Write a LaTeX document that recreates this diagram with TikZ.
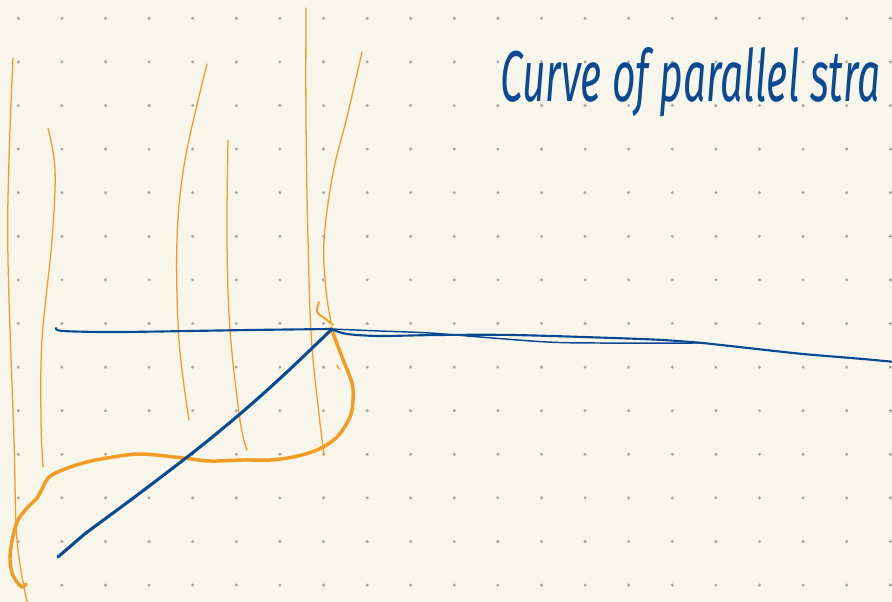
\documentclass[tikz,border=0pt]{standalone}
\usepackage{fontspec}
\newfontfamily\handfont{Fira Sans}
\definecolor{paper}{HTML}{F8F5EA}
\definecolor{dotgray}{HTML}{ABA79C}
\definecolor{inkblue}{HTML}{0B4A93}
\definecolor{inkorange}{HTML}{F39C21}
\tikzset{
  thinorange/.style={draw=inkorange, line width=0.95pt, line cap=round, line join=round},
  thickorange/.style={draw=inkorange, line width=2.6pt, line cap=round, line join=round},
  blueline/.style={draw=inkblue, line width=1.6pt, line cap=round, line join=round},
  bluethick/.style={draw=inkblue, line width=2.3pt, line cap=round, line join=round},
  gridDot/.style={fill=dotgray},
  titletext/.style={text=inkblue, inner sep=0pt, font=\handfont\itshape\fontsize{54}{58}\selectfont, xscale=0.565}
}
\begin{document}
\begin{tikzpicture}[x=0.75pt,y=-0.75pt]
\fill[paper] (0,0) rectangle (892,602);
\useasboundingbox (0,0) rectangle (892,602);
\begin{scope}
\clip (0,0) rectangle (892,602);
% dot grid
\foreach \i in {0,...,20}{
  \foreach \j in {0,...,13}{
    \fill[gridDot] ({18.3+43.6*\i},{18.3+43.6*\j}) circle[radius=1.25pt];
  }
}
% title
\node[titletext, anchor=base west] (title) at (500,102) {Curve of parallel stra};
% thin orange strands
\draw[thinorange] plot[smooth, tension=0.6] coordinates {(13,58) (9,160) (8,260) (14,440) (17,540) (27,602)};
\draw[thinorange] plot[smooth, tension=0.6] coordinates {(48,128) (55,170) (52,240) (42,340) (41,420) (43,467)};
\draw[thinorange] plot[smooth, tension=0.6] coordinates {(207,64) (185,160) (177,240) (179,340) (189,420)};
\draw[thinorange] plot[smooth, tension=0.6] coordinates {(228,140) (227,240) (230,330) (240,420) (247,450)};
\draw[thinorange] plot[smooth, tension=0.6] coordinates {(306,8) (306,120) (308,240) (312,347) (324,455)};
\draw[thinorange] plot[smooth, tension=0.6] coordinates {(362,52) (347,117) (333,173) (324,240) (326,290) (331,322)};
% hook near junction
\draw[thinorange, line width=1.4pt] plot[smooth, tension=0.6] coordinates {(319,302) (317,312) (323,317) (333,325)};
\draw[thinorange] (337,365) -- (339,369);
% thick orange loop
\draw[thickorange] plot[smooth, tension=0.55] coordinates {(331,328) (342,357) (352,383) (353,400) (350,417) (337,437) (317,450) (293,457) (270,460) (243,460) (210,461) (183,458) (140,454) (107,458) (83,463) (60,471) (48,478) (43,487) (37,498) (27,508) (18,520) (14,532) (11,547) (10,560) (12,573) (17,582) (22,587) (26,584)};
% blue horizontal line
\draw[blueline] plot[smooth, tension=0.5] coordinates {(56,328) (63,331) (120,332) (250,330) (331,329)};
% two strands to the right
\draw[blueline, line width=1.1pt] plot[smooth, tension=0.5] coordinates {(331,329) (380,331) (430,333) (480,337) (547,342) (597,343) (703,343)};
\draw[blueline] plot[smooth, tension=0.5] coordinates {(331,329) (347,334) (380,336) (437,335) (513,335) (613,338) (663,340) (703,343)};
\draw[blueline] plot[smooth, tension=0.5] coordinates {(703,343) (757,349) (803,354) (863,359) (895,362)};
% blue diagonal
\draw[bluethick] plot[smooth, tension=0.5] coordinates {(58,557) (80,538) (90,530) (140,493) (200,447) (247,408) (287,372) (331,330)};
\end{scope}
\end{tikzpicture}
\end{document}
